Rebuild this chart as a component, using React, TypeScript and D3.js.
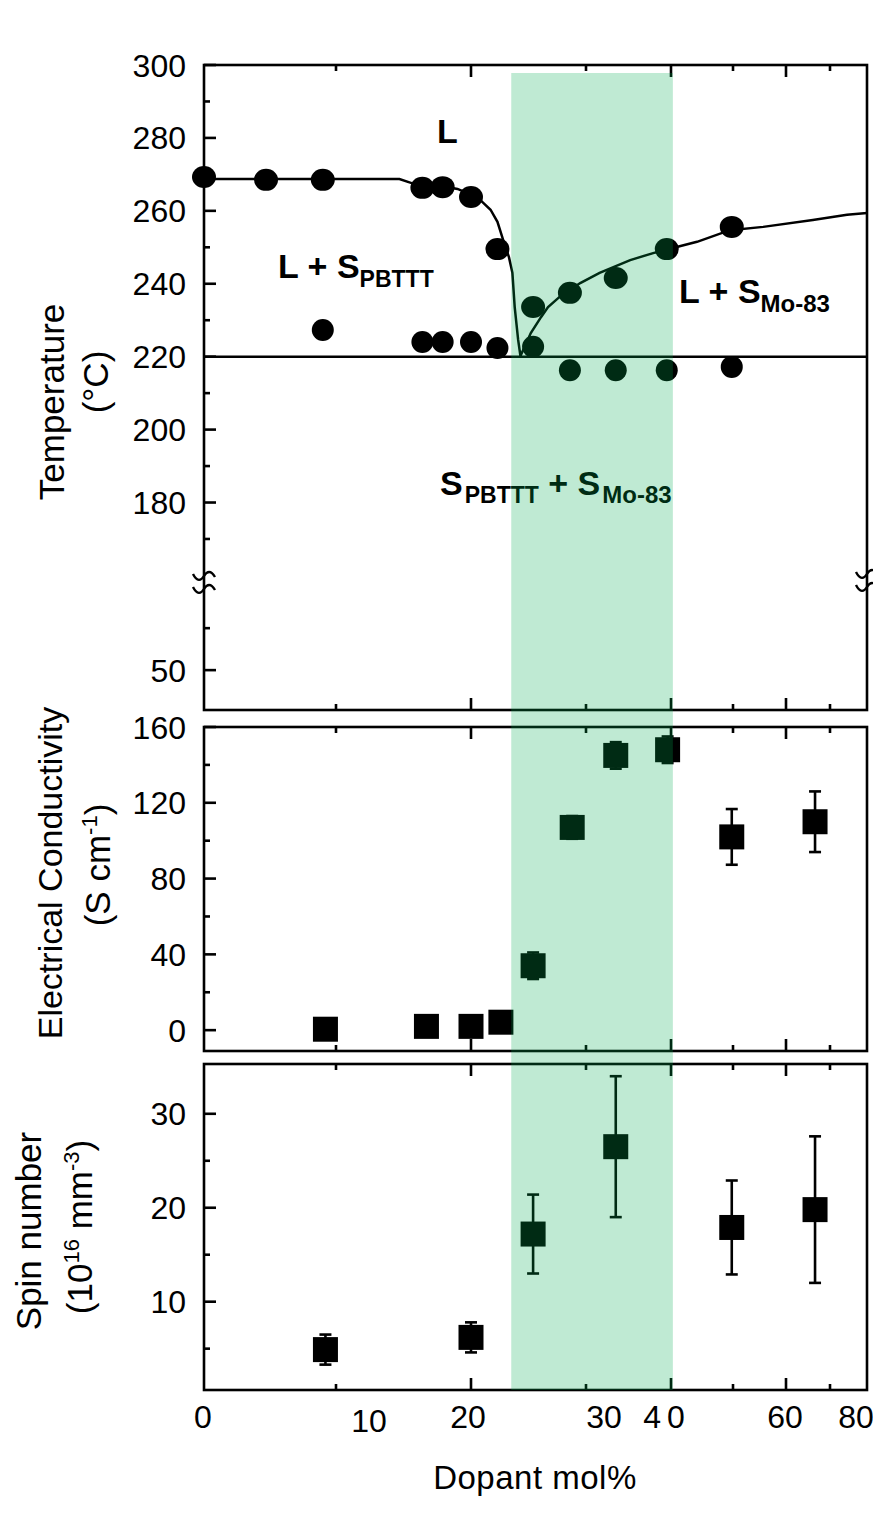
import * as d3 from 'd3';
import * as React from 'react';

const width = 873;
const height = 1523;
const font = '"Liberation Sans", Arial, sans-serif';

// shared x axis (non-linear, piecewise)
const xDomain = [0, 10, 20, 30, 40, 50, 60, 70, 80];
const xRange = [204, 336, 471, 586, 671, 733, 786, 830, 867];
const xMajor = [20, 40, 60];
const xMinor = [10, 30, 50, 70];
const xLabels = [0, 10, 20, 30, 40, 60, 80];
const xLabelShift = [-1, 33, -3, 18, -4, -1, -11];
const band = [23.5, 40.3];

// phase diagram
const liquidusX = [0, 4.7, 9.0, 16.4, 17.9, 20, 22.3, 25.4, 28.6, 33.5, 39.5, 49.8];
const liquidusT = [269.3, 268.5, 268.5, 266.3, 266.5, 263.8, 249.5, 233.6, 237.5, 241.6, 249.5, 255.6];
const solidusX = [9.0, 16.4, 17.9, 20, 22.3, 25.4, 28.6, 33.5, 39.5, 49.8];
const solidusT = [227.3, 224, 224, 224, 222.4, 222.7, 216.3, 216.3, 216.3, 217.2];
const leftCurveX = [0, 14.7, 15.6, 17.8, 19.0, 19.9, 20.8, 21.7, 22.3, 22.8, 23.3, 23.6, 23.8, 24.1, 24.3];
const leftCurveT = [268.7, 268.7, 267.6, 266.8, 266.0, 264.6, 263.0, 260.3, 257.0, 252.0, 247.3, 243.0, 233.6, 224.6, 220.2];
const rightCurveX = [24.3, 25.2, 26.1, 26.7, 27.7, 29.5, 31.6, 35.2, 37.9, 40.3, 44.2, 49.5, 55.7, 66.1, 74.6, 80];
const rightCurveT = [220.2, 226.5, 230.9, 233.6, 236.4, 240.2, 243.0, 246.5, 248.4, 249.8, 251.5, 254.7, 255.6, 257.5, 258.9, 259.4];
const eutecticT = 220;
const tempMajor = [50, 180, 200, 220, 240, 260, 280, 300];
const tempMinor = [60, 170, 190, 210, 230, 250, 270, 290];

// conductivity
const condX = [9.2, 16.7, 20, 22.6, 25.4, 28.8, 33.5, 39.6, 49.8, 66.6];
const condY = [0.5, 2, 2, 4.2, 34, 107, 145, 148, 102, 110];
const condErr = [1, 1, 1, 1, 7, 6, 7, 7, 14.7, 16];
const condMajor = [0, 40, 80, 120, 160];
const condMinor = [20, 60, 100, 140];

// spin number
const spinX = [9.2, 20, 25.4, 33.5, 49.8, 66.6];
const spinY = [4.9, 6.2, 17.2, 26.5, 17.9, 19.8];
const spinErr = [1.6, 1.6, 4.2, 7.5, 5, 7.8];
const spinMajor = [10, 20, 30];
const spinMinor = [5, 15, 25];

const x = d3.scaleLinear().domain(xDomain).range(xRange);
const L = xRange[0];
const R = xRange[xRange.length - 1];

const panels = {
  temp: { top: 65, bottom: 710 },
  cond: { top: 727, bottom: 1051 },
  spin: { top: 1064, bottom: 1390 },
};

const yT = d3.scaleLinear().domain([40.5, 71, 158.2, 300]).range([710, 582, 582, 65]);
const yC = d3.scaleLinear().domain([-11, 160]).range([panels.cond.bottom, panels.cond.top]);
const yS = d3.scaleLinear().domain([0.6, 35.3]).range([panels.spin.bottom, panels.spin.top]);

const sw = 2.6;

function Frame({ top, bottom, y, major, minor }: any) {
  return (
    <g stroke="#000" strokeWidth={sw} fill="none">
      <rect x={L} y={top} width={R - L} height={bottom - top} />
      {xMajor.map(v => (
        <g key={'M' + v}>
          <line x1={x(v)} x2={x(v)} y1={top} y2={top + 12} />
          <line x1={x(v)} x2={x(v)} y1={bottom} y2={bottom - 12} />
        </g>
      ))}
      {xMinor.map(v => (
        <g key={'m' + v}>
          <line x1={x(v)} x2={x(v)} y1={top} y2={top + 6} />
          <line x1={x(v)} x2={x(v)} y1={bottom} y2={bottom - 6} />
        </g>
      ))}
      {major.map((v: number) => (
        <line key={'yM' + v} x1={L} x2={L + 12} y1={y(v)} y2={y(v)} />
      ))}
      {minor.map((v: number) => (
        <line key={'ym' + v} x1={L} x2={L + 6} y1={y(v)} y2={y(v)} />
      ))}
      <g stroke="none" fill="#000" fontFamily={font} fontSize={32} textAnchor="end">
        {major.map((v: number) => (
          <text key={'t' + v} x={L - 18} y={y(v)} dy="0.36em">
            {v}
          </text>
        ))}
      </g>
    </g>
  );
}

function squiggle(cx: number, cy: number) {
  const t = (yy: number) =>
    `M${cx - 11},${yy - 2} C${cx - 7},${yy + 6} ${cx - 3},${yy + 5} ${cx},${yy} C${cx + 3},${yy - 5} ${cx + 7},${yy - 6} ${cx + 11},${yy + 1}`;
  return t(cy - 6) + ' ' + t(cy + 7);
}

function ErrSquares({ xs, ys, errs, y }: any) {
  const s = 25;
  return (
    <g>
      {xs.map((xv: number, i: number) => {
        const cx = x(xv);
        const y0 = y(ys[i] - errs[i]);
        const y1 = y(ys[i] + errs[i]);
        return (
          <g key={i}>
            <g stroke="#000" strokeWidth={2.6}>
              <line x1={cx} x2={cx} y1={y0} y2={y1} />
              <line x1={cx - 6} x2={cx + 6} y1={y0} y2={y0} />
              <line x1={cx - 6} x2={cx + 6} y1={y1} y2={y1} />
            </g>
            <rect x={cx - s / 2} y={y(ys[i]) - s / 2} width={s} height={s} fill="#000" />
          </g>
        );
      })}
    </g>
  );
}

export default function App() {
  const leftPath = d3
    .line<number>()
    .x(d => x(d))
    .y((_, i) => yT(leftCurveT[i]))(leftCurveX);
  const rightPath = d3
    .line<number>()
    .x(d => x(d))
    .y((_, i) => yT(rightCurveT[i]))(rightCurveX);

  const breakY = yT(71);

  return (
    <svg
      width={width}
      height={height}
      style={{ position: 'absolute', left: 0, top: 0, background: '#fff' }}
      fontFamily={font}
    >
      <rect width={width} height={height} fill="#fff" />

      {/* temperature panel */}
      <Frame top={panels.temp.top} bottom={panels.temp.bottom} y={yT} major={tempMajor} minor={tempMinor} />
      <g fill="none" stroke="#000" strokeWidth={2.4}>
        <path d={squiggle(L, breakY)} />
        <path d={squiggle(R, breakY - 2)} />
      </g>
      <g fill="none" stroke="#000" strokeWidth={2.5}>
        <line x1={L} x2={R} y1={yT(eutecticT)} y2={yT(eutecticT)} />
        <path d={leftPath || ''} />
        <path d={rightPath || ''} />
      </g>
      <g fill="#000">
        {liquidusX.map((v, i) => (
          <ellipse key={'l' + i} cx={x(v)} cy={yT(liquidusT[i])} rx={12} ry={11} />
        ))}
        {solidusX.map((v, i) => (
          <ellipse key={'s' + i} cx={x(v)} cy={yT(solidusT[i])} rx={11} ry={11} />
        ))}
      </g>
      <g fill="#000" fontWeight="bold" fontSize={34}>
        <text x={437} y={143}>L</text>
        <text x={278} y={278}>
          L + S<tspan dy={9} fontSize={23}>PBTTT</tspan>
        </text>
        <text x={679} y={303}>
          L + S<tspan dy={9} fontSize={24}>Mo-83</tspan>
        </text>
        <text x={440} y={495}>
          S<tspan dy={8} fontSize={23} dx={2}>PBTTT</tspan>
          <tspan dy={-8}> + S</tspan>
          <tspan dy={8} fontSize={24} dx={2}>Mo-83</tspan>
        </text>
      </g>

      {/* conductivity panel */}
      <Frame top={panels.cond.top} bottom={panels.cond.bottom} y={yC} major={condMajor} minor={condMinor} />
      <ErrSquares xs={condX} ys={condY} errs={condErr} y={yC} />

      {/* spin panel */}
      <Frame top={panels.spin.top} bottom={panels.spin.bottom} y={yS} major={spinMajor} minor={spinMinor} />
      <ErrSquares xs={spinX} ys={spinY} errs={spinErr} y={yS} />

      {/* highlighted composition band */}
      <rect
        x={x(band[0])}
        y={73}
        width={x(band[1]) - x(band[0])}
        height={panels.spin.bottom - 73}
        fill="rgb(0,170,81)"
        opacity={0.25}
      />

      {/* x tick labels */}
      <g fontSize={32} textAnchor="middle" fill="#000">
        {xLabels.map((v, i) => (
          <text
            key={v}
            x={x(v) + xLabelShift[i]}
            y={v === 10 ? 1432 : 1428}
            letterSpacing={v === 40 ? 6 : 0}
          >
            {v}
          </text>
        ))}
      </g>
      <text x={535} y={1489} fontSize={33} letterSpacing={0.5} textAnchor="middle" fill="#000">
        Dopant mol%
      </text>

      {/* y axis titles */}
      <g fontSize={35} textAnchor="middle" fill="#000">
        <text transform="translate(64,402) rotate(-90)">Temperature</text>
        <text transform="translate(108,382) rotate(-90)">(°C)</text>
        <text transform="translate(62,873) rotate(-90)" fontSize={34}>Electrical Conductivity</text>
        <text transform="translate(110,865) rotate(-90)">
          (S cm<tspan dy={-13} fontSize={22}>-1</tspan>
          <tspan dy={13}>)</tspan>
        </text>
        <text transform="translate(41,1231) rotate(-90)">Spin number</text>
        <text transform="translate(92,1227) rotate(-90)">
          (10<tspan dy={-13} fontSize={22}>16</tspan>
          <tspan dy={13}> mm</tspan>
          <tspan dy={-13} fontSize={22}>-3</tspan>
          <tspan dy={13}>)</tspan>
        </text>
      </g>
    </svg>
  );
}
